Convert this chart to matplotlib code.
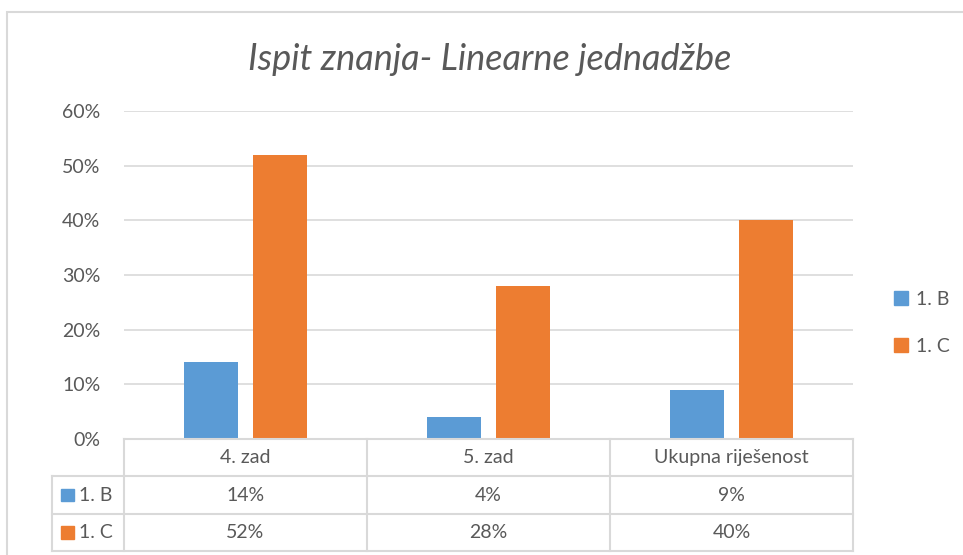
import numpy as np
import matplotlib.pyplot as plt
from matplotlib.patches import Patch, Rectangle

plt.rcParams['font.family'] = ['Lato', 'DejaVu Sans']

# podaci
kategorije = ['4. zad', '5. zad', 'Ukupna riješenost']
razredi = ['1. B', '1. C']
vrijednosti_B = [0.14, 0.04, 0.09]
vrijednosti_C = [0.52, 0.28, 0.40]
y_ticks = [0, 0.1, 0.2, 0.3, 0.4, 0.5, 0.6]

plava = '#5B9BD5'
narancasta = '#ED7D31'
siva = '#595959'
linija = '#D9D9D9'

fig = plt.figure(figsize=(9.63, 5.55), dpi=100)

# okvir grafa
fig.patches.append(Rectangle((0.0073, -0.05), 1.1, 0.978 + 0.05, transform=fig.transFigure,
                             fill=False, edgecolor=linija, lw=1.5))

ax = fig.add_axes([0.1288, 0.2090, 0.7570, 0.5910])
x = np.arange(len(kategorije))
w = 0.222
ax.bar(x - 0.142, vrijednosti_B, w, color=plava, label=razredi[0], zorder=3)
ax.bar(x + 0.142, vrijednosti_C, w, color=narancasta, label=razredi[1], zorder=3)

ax.set_xlim(-0.5, len(kategorije) - 0.5)
ax.set_ylim(0, 0.6)
ax.set_yticks(y_ticks)
ax.set_yticklabels(['%d%%' % round(v * 100) for v in y_ticks], color=siva, fontsize=14)
ax.tick_params(axis='y', length=0, pad=17)
ax.set_xticks([])
ax.grid(axis='y', color=linija, lw=1.2, zorder=0)
for s in ax.spines.values():
    s.set_visible(False)

fig.text(0.508, 0.893, 'Ispit znanja- Linearne jednadžbe', ha='center', va='center',
         fontsize=26, style='italic', color=siva)

# legenda desno
ruke = [Patch(color=plava), Patch(color=narancasta)]
leg = fig.legend(ruke, razredi, loc='center left', bbox_to_anchor=(0.918, 0.418),
                 frameon=False, fontsize=14, handlelength=0.75, handleheight=0.75,
                 handletextpad=0.4, labelspacing=1.55, borderpad=0)
for t in leg.get_texts():
    t.set_color(siva)

# tablica podataka ispod
lijevo = -0.5 - 72 / 243
axt = fig.add_axes([0.054, 0.0072, 0.8858 - 0.054, 0.2090 - 0.0072])
axt.set_xlim(lijevo, len(kategorije) - 0.5)
axt.set_ylim(3, 0)
axt.axis('off')

kw = dict(color=linija, lw=1.5, clip_on=False)
axt.plot([-0.5, len(kategorije) - 0.5], [0, 0], **kw)
for r in [1, 2, 3]:
    axt.plot([lijevo, len(kategorije) - 0.5], [r, r], **kw)
axt.plot([lijevo, lijevo], [1, 3], **kw)
for c in np.arange(len(kategorije) + 1) - 0.5:
    axt.plot([c, c], [0, 3], **kw)

for i, k in enumerate(kategorije):
    axt.text(i, 0.5, k, ha='center', va='center', fontsize=14, color=siva)
    axt.text(i, 1.5, '%d%%' % round(vrijednosti_B[i] * 100), ha='center', va='center', fontsize=14, color=siva)
    axt.text(i, 2.5, '%d%%' % round(vrijednosti_C[i] * 100), ha='center', va='center', fontsize=14, color=siva)

for r, (ime, boja) in enumerate(zip(razredi, [plava, narancasta])):
    axt.add_patch(Rectangle((lijevo + 0.037, r + 1.5 - 0.17), 0.054, 0.34, color=boja))
    axt.text(lijevo + 0.112, r + 1.5, ime, ha='left', va='center', fontsize=14, color=siva)

plt.savefig('out.png', dpi=100)
